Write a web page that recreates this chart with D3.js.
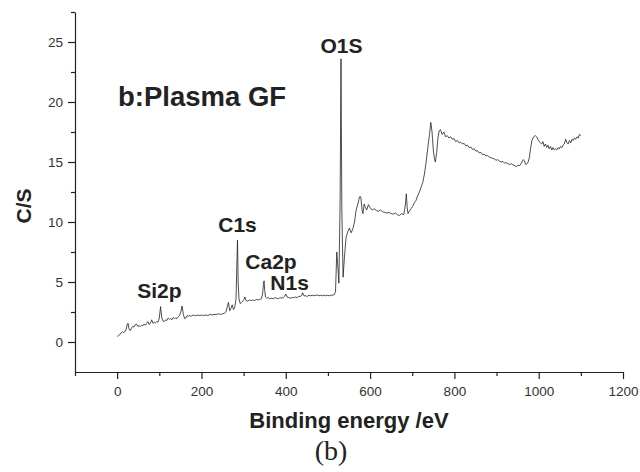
<!DOCTYPE html>
<html>
<head>
<meta charset="utf-8">
<script src="https://cdn.jsdelivr.net/npm/d3@7"></script>
<style>
  html, body { margin: 0; padding: 0; background: #fff; }
  svg { display: block; font-family: "Liberation Sans", Arial, sans-serif; }
</style>
</head>
<body>
<svg id="chart" width="640" height="472"></svg>
<script>
// Binding energy (eV) and counts (C/S)
const energy = [0,3,6,9,12,15,18,21,24,26,28,31,34,37,40,43,46,49,52,55,58,61,64,67,70,73,76,79,82,85,88,91,94,97,100,103,106,109,112,115,118,121,124,127,130,133,136,139,142,145,148,151,154,157,160,163,166,169,172,176,180,184,188,192,196,200,205,210,215,220,225,230,235,240,245,250,255,258,261,264,267,270,273,276,279,282,284,285.5,287,289,292,295,298,301,303,306,310,314,318,322,326,330,334,338,342,345,347,348.5,350,352,355,358,362,366,370,374,378,382,386,390,394,397,400,403,407,411,415,419,423,427,431,435,438,440,443,447,451,455,459,463,467,471,475,479,483,487,491,495,499,503,507,511,515,518,521,524,526,529,531,533,536,539,543,547,551,555,559,563,567,571,575,578,581,583,586,589,592,596,600,605,610,615,620,625,630,635,640,645,650,655,660,665,670,675,680,684,686,688,690,693,697,701,705,709,713,717,721,725,729,733,737,741,744,747,750,753,755,758,761,764,767,771,775,779,783,787,791,795,799,803,807,811,815,819,823,827,831,835,839,843,847,851,855,859,863,867,871,875,879,883,887,891,895,899,903,907,911,915,919,923,927,931,935,939,943,947,951,955,959,963,966,969,972,975,978,981,984,988,992,995,998,1001,1004,1007,1010,1013,1016,1019,1022,1025,1028,1031,1034,1037,1040,1043,1046,1049,1052,1055,1058,1061,1064,1067,1070,1073,1076,1079,1082,1085,1088,1091,1094,1097,1100];
const counts = [0.45,0.55,0.6,0.75,0.85,0.8,0.85,1.0,1.5,1.55,1.1,0.95,1.15,1.3,1.25,1.45,1.5,1.3,1.35,1.3,1.4,1.35,1.5,1.4,1.55,1.7,1.45,1.6,1.85,1.55,1.65,1.6,1.7,1.65,2.0,2.95,2.0,1.75,1.7,1.85,1.8,2.0,1.9,1.95,1.85,2.05,1.95,2.0,1.95,2.1,2.2,2.5,3.0,2.3,1.95,2.0,2.2,2.15,2.2,2.15,2.25,2.2,2.2,2.25,2.2,2.25,2.2,2.25,2.2,2.3,2.25,2.3,2.3,2.35,2.3,2.35,2.4,2.5,2.9,3.3,2.6,2.8,3.1,2.7,2.9,3.6,6.5,8.5,5.0,3.6,3.2,3.3,3.4,3.55,3.75,3.45,3.4,3.5,3.45,3.5,3.45,3.55,3.5,3.55,3.6,4.0,4.8,5.1,4.3,3.75,3.65,3.7,3.6,3.65,3.6,3.7,3.65,3.6,3.7,3.65,3.7,3.8,4.0,3.75,3.7,3.65,3.7,3.7,3.75,3.7,3.8,3.8,3.9,4.1,3.85,3.85,3.8,3.9,3.85,3.9,3.85,3.9,3.9,3.85,3.9,3.85,3.9,3.85,3.9,3.85,3.9,3.9,3.95,4.2,7.5,6.0,4.9,12.0,23.6,11.0,5.4,7.0,8.7,9.2,9.5,9.1,9.4,10.0,11.0,11.5,12.1,12.1,11.0,10.7,11.5,11.2,11.0,11.45,11.2,11.0,11.1,10.95,10.9,11.0,10.85,10.8,10.75,10.8,10.7,10.65,10.75,10.6,10.55,10.7,10.6,11.5,12.35,11.2,10.7,10.9,11.1,11.3,11.6,11.8,12.2,12.5,12.9,13.3,14.0,15.0,16.2,17.3,18.3,17.5,16.0,15.2,15.0,15.8,17.0,17.6,17.7,17.3,17.5,17.1,17.2,17.0,17.1,16.9,16.95,16.7,16.8,16.6,16.65,16.5,16.55,16.35,16.4,16.2,16.25,16.05,16.1,15.9,15.95,15.75,15.8,15.6,15.65,15.5,15.55,15.4,15.35,15.3,15.25,15.15,15.2,15.05,15.0,15.05,14.9,14.95,14.85,14.8,14.85,14.75,14.7,14.6,14.75,14.7,14.9,15.2,15.1,14.8,14.85,15.0,15.4,16.2,16.8,17.1,17.2,17.1,16.9,16.7,16.6,16.5,16.7,16.3,16.5,16.2,16.4,16.1,16.3,16.0,16.2,16.0,16.1,16.0,16.2,16.1,16.3,16.2,16.4,16.5,16.9,16.6,16.5,16.8,16.6,16.9,16.8,17.0,16.9,17.1,17.0,17.3,17.2];

const xMajorTicks = [0, 200, 400, 600, 800, 1000, 1200];
const xMinorTicks = [-100, 100, 300, 500, 700, 900, 1100];
const yMajorTicks = [0, 5, 10, 15, 20, 25];
const yMinorTicks = [2.5, 7.5, 12.5, 17.5, 22.5, 27.5];

const peakLabels = ["Si2p", "C1s", "Ca2p", "N1s", "O1S"];
const peakEnergies = [100, 285.5, 365, 409, 532];
const peakLabelValues = [3.7, 9.2, 6.05, 4.3, 24.1];

const svg = d3.select("#chart");
const x = d3.scaleLinear().domain([-100, 1200]).range([75, 623]);
const y = d3.scaleLinear().domain([-2.5, 27.5]).range([372, 12]);
const ink = "#222";

// minor ticks
svg.append("g").attr("transform", "translate(0,372)")
  .call(d3.axisBottom(x).tickValues(xMinorTicks).tickSize(4).tickFormat(""))
  .call(g => g.select(".domain").remove());
svg.append("g").attr("transform", "translate(75,0)")
  .call(d3.axisLeft(y).tickValues(yMinorTicks).tickSize(4).tickFormat(""))
  .call(g => g.select(".domain").remove());

// major axes
svg.append("g").attr("transform", "translate(0,372)")
  .call(d3.axisBottom(x).tickValues(xMajorTicks).tickFormat(d3.format("d"))
    .tickSize(7).tickSizeOuter(0).tickPadding(7));
svg.append("g").attr("transform", "translate(75,0)")
  .call(d3.axisLeft(y).tickValues(yMajorTicks).tickFormat(d3.format("d"))
    .tickSize(7).tickSizeOuter(0).tickPadding(5));

svg.selectAll(".tick line, .domain").attr("stroke", ink).attr("stroke-width", 1.2);
svg.selectAll(".tick text").attr("fill", "#333").style("font-size", "13.5px")
  .style("font-family", "'Liberation Sans', Arial, sans-serif");

// spectrum
const pts = energy.map((e, i) => [e, counts[i]]);
svg.append("path").datum(pts)
  .attr("fill", "none").attr("stroke", "#222").attr("stroke-width", 0.8)
  .attr("stroke-linejoin", "round")
  .attr("d", d3.line().x(d => x(d[0])).y(d => y(d[1])));

// peak labels
svg.selectAll(".peak").data(peakLabels).join("text")
  .attr("class", "peak")
  .attr("x", (d, i) => x(peakEnergies[i]))
  .attr("y", (d, i) => y(peakLabelValues[i]))
  .attr("text-anchor", "middle")
  .attr("fill", ink).style("font-size", "21px").style("font-weight", "bold")
  .text(d => d);

// inset title
svg.append("text").attr("x", 118).attr("y", 106)
  .attr("fill", ink).style("font-size", "27.5px").style("font-weight", "bold")
  .text("b:Plasma GF");

// axis titles
svg.append("text").attr("x", 349).attr("y", 428).attr("text-anchor", "middle")
  .attr("fill", ink).style("font-size", "22px").style("font-weight", "bold")
  .text("Binding energy /eV");
svg.append("text").attr("transform", "translate(31,206) rotate(-90)")
  .attr("text-anchor", "middle")
  .attr("fill", ink).style("font-size", "21px").style("font-weight", "bold")
  .text("C/S");
svg.append("text").attr("x", 331).attr("y", 460).attr("text-anchor", "middle")
  .attr("fill", ink).style("font-size", "28px")
  .style("font-family", "'Liberation Serif', 'Times New Roman', serif")
  .text("(b)");
</script>
</body>
</html>
